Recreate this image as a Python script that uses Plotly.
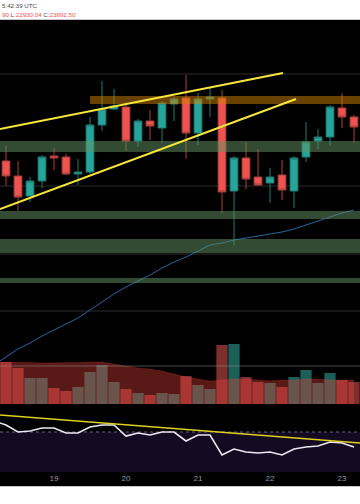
import plotly.graph_objects as go
import pandas as pd

# ---------------- data ----------------
times = pd.date_range("2023-01-18 08:00", periods=30, freq="4h")
line_times = pd.date_range("2023-01-18 04:00", periods=31, freq="4h")

opens = [23125, 23050, 22950, 23025, 23150, 23145, 23060, 23070, 23305, 23385,
         23395, 23225, 23325, 23290, 23410, 23440, 23265, 23435, 23440, 22975,
         23140, 23045, 23015, 23055, 22975, 23145, 23225, 23245, 23390, 23345]
highs = [23200, 23125, 23045, 23155, 23190, 23160, 23135, 23345, 23525, 23485,
         23405, 23335, 23380, 23425, 23445, 23555, 23465, 23490, 23480, 23150,
         23220, 23185, 23090, 23130, 23150, 23320, 23285, 23405, 23465, 23355]
lows = [23000, 22875, 22920, 22990, 23080, 23055, 23005, 23060, 23275, 23380,
        23175, 23195, 23230, 23215, 23325, 23135, 23205, 23345, 22865, 22705,
        22985, 23000, 22915, 22930, 22890, 23120, 23185, 23200, 23290, 23215]
closes = [23050, 22945, 23025, 23145, 23140, 23060, 23070, 23305, 23385, 23400,
          23225, 23325, 23300, 23415, 23435, 23265, 23435, 23445, 22970, 23140,
          23035, 23005, 23045, 22980, 23140, 23220, 23245, 23395, 23345, 23295]

volumes = [10500, 9000, 6500, 6500, 4000, 3250, 4250, 8000, 9750, 5500,
           3750, 2750, 2250, 2750, 2500, 7000, 4750, 3750, 14750, 15000,
           6750, 5500, 5250, 4250, 6750, 8500, 5250, 7750, 6000, 5500]

volume_ma = [10500, 10500, 10500, 10400, 10250, 10250, 10250, 10400, 10500, 10500,
             10000, 9500, 9000, 8750, 8250, 7500, 6750, 6250, 5750, 6000,
             6250, 6250, 6000, 5750, 6000, 6000, 6250, 6250, 6000, 6000, 6000]

price_ma = [22105, 22145, 22185, 22215, 22250, 22280, 22310, 22340, 22380, 22420,
            22460, 22495, 22525, 22555, 22590, 22620, 22645, 22675, 22705, 22715,
            22730, 22740, 22750, 22760, 22770, 22785, 22805, 22825, 22845, 22865, 22880]

rsi = [75.5, 73.5, 70.0, 70.5, 72.0, 72.0, 69.5, 69.5, 72.5, 73.5,
       73.5, 68.0, 69.5, 68.5, 70.0, 70.0, 65.5, 68.5, 68.5, 58.5,
       61.5, 60.0, 59.5, 60.0, 58.5, 61.5, 62.5, 63.0, 65.0, 64.5, 62.5]

# drawings
green_zones = [(23170, 23225), (22835, 22875), (22665, 22735), (22515, 22540)]
orange_zone = ("2023-01-19 12:00", 23410, 23450)
trend_upper = [("2023-01-18 06:00", 23285), ("2023-01-22 04:20", 23565)]
trend_lower = [("2023-01-18 06:00", 22885), ("2023-01-22 08:40", 23435)]
rsi_trend = [("2023-01-18 06:00", 78.5), ("2023-01-23 06:00", 64.5)]
level_lines = [23560, 23000, 22660, 22375]
volume_level = 22100
rsi_upper = 70

day_ticks = ["2023-01-19", "2023-01-20", "2023-01-21", "2023-01-22", "2023-01-23"]
day_labels = ["19", "20", "21", "22", "23"]

UP = "#26a69a"
DOWN = "#ef5350"

def py(p):
    return 1 - p / 504

fig = go.Figure()

fig.add_trace(go.Scatter(x=line_times, y=price_ma, mode="lines",
                         line=dict(color="#2566a3", width=1), yaxis="y",
                         hoverinfo="skip", showlegend=False))

fig.add_trace(go.Candlestick(
    x=times, open=opens, high=highs, low=lows, close=closes, yaxis="y",
    increasing=dict(line=dict(color="#1f7d74", width=1), fillcolor=UP),
    decreasing=dict(line=dict(color="#a8403c", width=1), fillcolor=DOWN),
    whiskerwidth=0, showlegend=False))

vol_colors = ["#1b5f58" if c >= o else "#7d2f2f" for o, c in zip(opens, closes)]
fig.add_trace(go.Bar(x=times, y=volumes, marker=dict(color=vol_colors, line=dict(width=0)),
                     yaxis="y2", showlegend=False))
fig.add_trace(go.Scatter(x=line_times, y=volume_ma, mode="lines", fill="tozeroy",
                         line=dict(color="rgba(242,68,60,0.37)", width=0.5),
                         fillcolor="rgba(242,68,60,0.37)", yaxis="y2", showlegend=False))

fig.add_trace(go.Scatter(x=line_times, y=rsi, mode="lines",
                         line=dict(color="#ece8f2", width=1.6), yaxis="y3", showlegend=False))

shapes = []
for lv in level_lines:
    shapes.append(dict(type="line", xref="paper", x0=0, x1=1, yref="y", y0=lv, y1=lv,
                       line=dict(color="#2c2c2c", width=1), layer="below"))
shapes.append(dict(type="line", xref="paper", x0=0, x1=1, yref="y", y0=volume_level, y1=volume_level,
                   line=dict(color="rgba(150,150,150,0.5)", width=1), layer="above"))
# RSI background
shapes.append(dict(type="rect", xref="paper", x0=0, x1=1, yref="y3", y0=50, y1=rsi_upper,
                   fillcolor="#140a22", line=dict(width=0), layer="below"))
shapes.append(dict(type="line", xref="paper", x0=0, x1=1, yref="y3", y0=rsi_upper, y1=rsi_upper,
                   line=dict(color="#6a6480", width=1, dash="dot"), layer="below"))
for lo, hi in green_zones:
    shapes.append(dict(type="rect", xref="paper", x0=0, x1=1, yref="y", y0=lo, y1=hi,
                       fillcolor="rgba(100,150,100,0.5)", line=dict(width=0), layer="above"))
shapes.append(dict(type="rect", xref="x", x0=orange_zone[0], x1="2023-01-24 00:00", yref="y",
                   y0=orange_zone[1], y1=orange_zone[2],
                   fillcolor="rgba(210,130,0,0.5)", line=dict(width=0), layer="above"))
for tl in (trend_upper, trend_lower):
    shapes.append(dict(type="line", xref="x", yref="y", x0=tl[0][0], y0=tl[0][1],
                       x1=tl[1][0], y1=tl[1][1], line=dict(color="#f7e73a", width=2), layer="above"))
shapes.append(dict(type="line", xref="x", yref="y3", x0=rsi_trend[0][0], y0=rsi_trend[0][1],
                   x1=rsi_trend[1][0], y1=rsi_trend[1][1], line=dict(color="#e0d020", width=1.3),
                   layer="above"))
# white header / footer strips
shapes.append(dict(type="rect", xref="paper", yref="paper", x0=0, x1=1, y0=py(19.5), y1=1,
                   fillcolor="white", line=dict(width=0), layer="above"))
shapes.append(dict(type="line", xref="paper", yref="paper", x0=0, x1=1, y0=py(19.5), y1=py(19.5),
                   line=dict(color="#c8c8c8", width=1), layer="above"))
shapes.append(dict(type="rect", xref="paper", yref="paper", x0=0, x1=1, y0=0, y1=py(486.5),
                   fillcolor="white", line=dict(width=0), layer="above"))
shapes.append(dict(type="line", xref="paper", yref="paper", x0=0, x1=1, y0=py(486.5), y1=py(486.5),
                   line=dict(color="#c8c8c8", width=1), layer="above"))

R = "#ef5350"
annotations = [
    dict(xref="paper", yref="paper", x=0, y=py(6), xanchor="left", yanchor="middle",
         text="5:42:39 UTC", showarrow=False,
         font=dict(family="Liberation Sans", size=6.2, color="#4a4a4a")),
    dict(xref="paper", yref="paper", x=0, y=py(14.5), xanchor="left", yanchor="middle",
         text=f'<span style="color:{R}">90</span> L:<span style="color:{R}">22930.04</span> '
              f'C:<span style="color:{R}">23692.50</span>',
         showarrow=False, font=dict(family="Liberation Sans", size=6.2, color="#4a4a4a")),
]

fig.update_layout(
    width=360, height=504,
    margin=dict(l=0, r=0, t=0, b=0),
    paper_bgcolor="black", plot_bgcolor="black",
    showlegend=False, bargap=0.06, boxgap=0.08,
    xaxis=dict(type="date", range=["2023-01-18 06:00", "2023-01-23 06:00"],
               anchor="y3", rangeslider=dict(visible=False), showgrid=False,
               zeroline=False, showline=False, ticks="",
               tickvals=day_ticks, ticktext=day_labels,
               tickfont=dict(family="Liberation Sans", size=8, color="#9a9a9a")),
    yaxis=dict(domain=[py(404), py(20)], range=[21910, 23830], showgrid=False,
               zeroline=False, showticklabels=False),
    yaxis2=dict(overlaying="y", range=[0, 96000], showgrid=False, zeroline=False,
                showticklabels=False),
    yaxis3=dict(domain=[py(472), py(404)], range=[50, 84], showgrid=False,
                zeroline=False, showticklabels=False),
    shapes=shapes, annotations=annotations,
)

fig.write_html("out.html", config={"displayModeBar": False},
               post_script="document.body.style.margin='0';document.body.style.overflow='hidden';")
